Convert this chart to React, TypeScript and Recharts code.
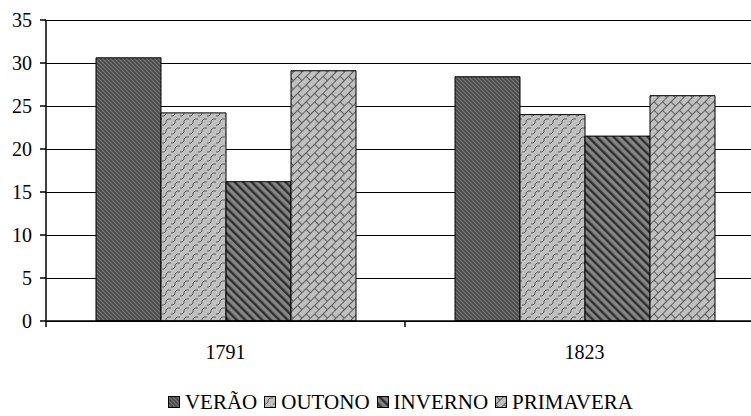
import { BarChart, Bar, XAxis, YAxis, CartesianGrid, Legend } from 'recharts';

const categories = ['1791', '1823'];
const verao = [30.6, 28.4];
const outono = [24.2, 24.0];
const inverno = [16.2, 21.5];
const primavera = [29.1, 26.2];
const yTicks = [0, 5, 10, 15, 20, 25, 30, 35];
const seriesNames = ['VERÃO', 'OUTONO', 'INVERNO', 'PRIMAVERA'];
const seriesKeys = ['verao', 'outono', 'inverno', 'primavera'];
const patternIds = ['patVerao', 'patOutono', 'patInverno', 'patPrimavera'];

const data = categories.map((year, i) => ({
  year,
  verao: verao[i],
  outono: outono[i],
  inverno: inverno[i],
  primavera: primavera[i],
}));

const FONT = '"Liberation Serif", "Times New Roman", serif';

// x tick: label under the band centre, tick mark on the band's left edge
const YearTick = ({ x, y, payload }: any) => {
  const off = payload && payload.offset ? payload.offset : 179.5;
  return (
    <g>
      <line x1={x - off} y1={y} x2={x - off} y2={y + 6} stroke="#000" strokeWidth={1.5} />
      <text x={x} y={y + 38} textAnchor="middle" fill="#000" fontSize={20} fontFamily={FONT}>
        {payload.value}
      </text>
    </g>
  );
};

const LegendBox = () => (
  <div
    style={{
      display: 'flex',
      justifyContent: 'center',
      alignItems: 'center',
      paddingLeft: 37,
      fontFamily: FONT,
      fontSize: 21,
      lineHeight: '24px',
      color: '#000',
      whiteSpace: 'nowrap',
    }}
  >
    {seriesNames.map((name, i) => (
      <span key={name} style={{ display: 'flex', alignItems: 'center', marginRight: i < 3 ? 7 : 0 }}>
        <svg width={12} height={12} style={{ marginRight: 5 }}>
          <rect x={0.5} y={0.5} width={11} height={11} fill={`url(#${patternIds[i]})`} stroke="#000" />
        </svg>
        {name}
      </span>
    ))}
  </div>
);

export default function App() {
  return (
    <div
      style={{
        position: 'absolute',
        left: 0,
        top: 0,
        width: 751,
        height: 416,
        overflow: 'hidden',
        background: '#fff',
      }}
    >
      <BarChart
        width={766}
        height={416}
        data={data}
        margin={{ top: 20, right: 2, left: 0, bottom: 2 }}
        barCategoryGap={50}
        barGap={0}
      >
        <defs>
          <pattern id="patVerao" width={4} height={4} patternUnits="userSpaceOnUse">
            <rect width={4} height={4} fill="#464646" />
            <path d="M0,0 L4,4 M-1,3 L1,5 M3,-1 L5,1" stroke="#7c7c7c" strokeWidth={1.2} />
          </pattern>
          <pattern id="patOutono" width={9} height={9} patternUnits="userSpaceOnUse">
            <rect width={9} height={9} fill="#c0c0c0" />
            <path d="M0,8 L2,8 L4,6 L4,4 L6,2 L9,2" fill="none" stroke="#5a5a5a" strokeWidth={1} />
          </pattern>
          <pattern id="patInverno" width={6} height={6} patternUnits="userSpaceOnUse" patternTransform="rotate(-45)">
            <rect width={6} height={6} fill="#858585" />
            <rect width={2.4} height={6} fill="#2e2e2e" />
          </pattern>
          <pattern id="patPrimavera" width={12} height={12} patternUnits="userSpaceOnUse" patternTransform="rotate(-45)">
            <rect width={12} height={12} fill="#c0c0c0" />
            <path d="M0,0.5 L12,0.5 M0,6.5 L12,6.5 M0.5,0 L0.5,6 M6.5,6 L6.5,12" stroke="#5a5a5a" strokeWidth={1} />
          </pattern>
        </defs>
        <CartesianGrid vertical={false} stroke="#000" strokeWidth={1} shapeRendering="crispEdges" />
        <XAxis
          dataKey="year"
          interval={0}
          tickLine={false}
          tickSize={0}
          tickMargin={0}
          axisLine={{ stroke: '#000', strokeWidth: 1.5 }}
          tick={<YearTick />}
          height={69}
        />
        <YAxis
          domain={[0, 35]}
          ticks={yTicks}
          width={46}
          tickSize={6}
          tickMargin={8}
          tickLine={{ stroke: '#000', strokeWidth: 1.5 }}
          axisLine={{ stroke: '#000', strokeWidth: 1.5 }}
          tick={{ fill: '#000', fontSize: 20, fontFamily: FONT }}
        />
        <Legend verticalAlign="bottom" height={24} content={<LegendBox />} />
        {seriesKeys.map((key, i) => (
          <Bar
            key={key}
            dataKey={key}
            name={seriesNames[i]}
            fill={`url(#${patternIds[i]})`}
            stroke="#000"
            strokeWidth={1}
            isAnimationActive={false}
          />
        ))}
      </BarChart>
    </div>
  );
}
